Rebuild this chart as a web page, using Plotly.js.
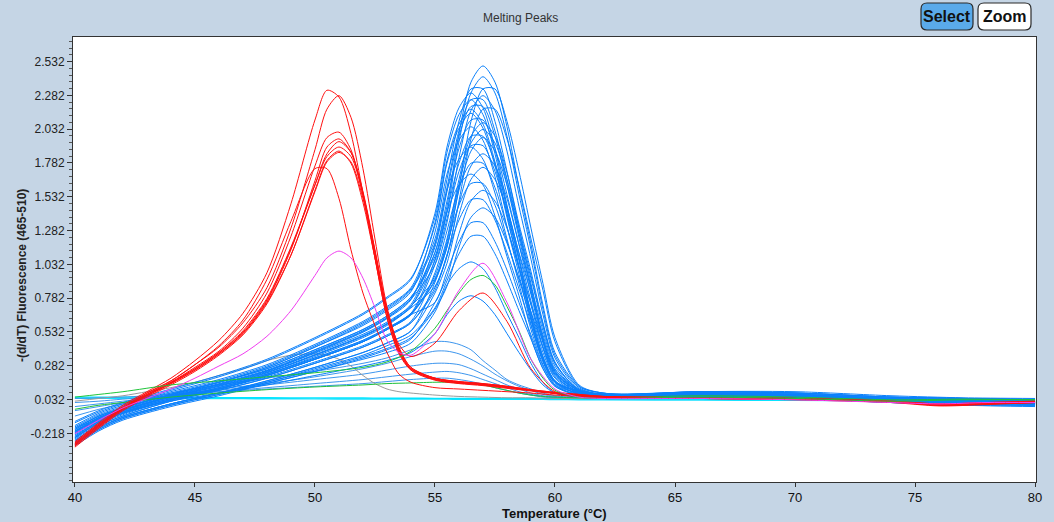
<!DOCTYPE html>
<html>
<head>
<meta charset="utf-8">
<script src="https://cdn.plot.ly/plotly-3.0.1.min.js"></script>
<style>
  html, body { margin: 0; padding: 0; background: #c5d5e5; }
  #chart { width: 1054px; height: 522px; }
</style>
</head>
<body>
<div id="chart"></div>
<script>
// Temperature grids (°C) for the sample groups
const tempBlue = [40, 41, 42, 44, 46, 48, 50, 52, 53, 54, 55, 55.5, 56, 56.5, 57, 57.5, 58, 58.5, 59, 59.5, 60, 61, 62, 66, 70, 74, 77, 80];
const tempRed = [40, 41, 42, 43, 44, 45, 46, 47, 48, 49, 50, 50.5, 51, 51.5, 52, 52.5, 53, 53.5, 54, 55, 56, 57, 58, 59, 60, 61, 62, 66, 70, 74, 76, 78, 80];

// Axis ticks
const xTickValues = [40, 45, 50, 55, 60, 65, 70, 75, 80];
const xTickLabels = ['40', '45', '50', '55', '60', '65', '70', '75', '80'];
const yTickValues = [-0.218, 0.032, 0.282, 0.532, 0.782, 1.032, 1.282, 1.532, 1.782, 2.032, 2.282, 2.532];
const yTickLabels = ['-0.218', '0.032', '0.282', '0.532', '0.782', '1.032', '1.282', '1.532', '1.782', '2.032', '2.282', '2.532'];

// -(d/dT) melting peaks, high-Tm group (blue)
const blue01 = [-0.22, -0.12, -0.05, 0.05, 0.13, 0.23, 0.36, 0.50, 0.59, 0.72, 1.12, 1.46, 2.00, 2.38, 2.50, 2.38, 2.05, 1.60, 1.18, 0.73, 0.38, 0.13, 0.08, 0.08, 0.07, 0.04, 0.03, 0.02];
const blue02 = [-0.19, -0.10, -0.03, 0.07, 0.16, 0.26, 0.40, 0.55, 0.65, 0.79, 1.09, 1.42, 1.94, 2.30, 2.42, 2.30, 1.98, 1.55, 1.14, 0.70, 0.36, 0.12, 0.07, 0.07, 0.06, 0.03, 0.02, 0.01];
const blue03 = [-0.17, -0.08, -0.02, 0.08, 0.17, 0.28, 0.43, 0.60, 0.71, 0.85, 1.22, 1.66, 2.09, 2.33, 2.33, 2.09, 1.72, 1.30, 0.89, 0.49, 0.25, 0.11, 0.07, 0.09, 0.08, 0.05, 0.04, 0.03];
const blue04 = [-0.14, -0.06, 0.00, 0.10, 0.20, 0.32, 0.48, 0.66, 0.78, 0.92, 1.41, 1.90, 2.19, 2.30, 2.19, 1.89, 1.47, 1.08, 0.67, 0.35, 0.17, 0.09, 0.07, 0.08, 0.08, 0.05, 0.04, 0.035];
const blue05 = [-0.18, -0.09, -0.03, 0.07, 0.16, 0.27, 0.42, 0.59, 0.70, 0.84, 1.19, 1.60, 2.02, 2.25, 2.25, 2.02, 1.66, 1.26, 0.86, 0.48, 0.24, 0.10, 0.07, 0.06, 0.05, 0.02, 0.01, 0.00];
const blue06 = [-0.13, -0.05, 0.01, 0.11, 0.21, 0.33, 0.49, 0.67, 0.79, 0.93, 1.38, 1.86, 2.14, 2.25, 2.14, 1.85, 1.44, 1.06, 0.65, 0.34, 0.17, 0.09, 0.07, 0.07, 0.06, 0.03, 0.02, 0.01];
const blue07 = [-0.20, -0.10, -0.04, 0.06, 0.15, 0.25, 0.39, 0.54, 0.64, 0.78, 1.16, 1.57, 1.98, 2.20, 2.20, 1.98, 1.62, 1.23, 0.84, 0.47, 0.23, 0.10, 0.07, 0.08, 0.07, 0.04, 0.03, 0.02];
const blue08 = [-0.23, -0.13, -0.06, 0.04, 0.12, 0.22, 0.35, 0.49, 0.58, 0.71, 0.87, 1.09, 1.50, 1.96, 2.18, 2.18, 1.96, 1.61, 1.22, 0.84, 0.46, 0.13, 0.08, 0.06, 0.05, 0.02, 0.00, -0.01];
const blue09 = [-0.16, -0.07, -0.01, 0.09, 0.18, 0.29, 0.44, 0.61, 0.72, 0.86, 1.32, 1.78, 2.04, 2.15, 2.04, 1.76, 1.38, 1.01, 0.62, 0.32, 0.16, 0.09, 0.07, 0.09, 0.09, 0.06, 0.045, 0.04];
const blue10 = [-0.19, -0.09, -0.03, 0.07, 0.16, 0.26, 0.40, 0.55, 0.65, 0.79, 1.12, 1.50, 1.89, 2.10, 2.10, 1.89, 1.55, 1.18, 0.81, 0.45, 0.22, 0.10, 0.07, 0.07, 0.06, 0.03, 0.02, 0.01];
const blue11 = [-0.25, -0.14, -0.07, 0.03, 0.11, 0.21, 0.33, 0.46, 0.55, 0.66, 0.95, 1.22, 1.66, 1.98, 2.08, 1.98, 1.71, 1.33, 0.98, 0.60, 0.31, 0.10, 0.06, 0.07, 0.06, 0.03, 0.02, 0.00];
const blue12 = [-0.21, -0.11, -0.05, 0.05, 0.14, 0.24, 0.38, 0.53, 0.63, 0.77, 1.27, 1.70, 1.95, 2.05, 1.95, 1.68, 1.31, 0.96, 0.59, 0.31, 0.15, 0.08, 0.06, 0.06, 0.05, 0.02, 0.01, 0.00];
const blue13 = [-0.22, -0.12, -0.05, 0.05, 0.13, 0.23, 0.36, 0.50, 0.59, 0.72, 1.06, 1.42, 1.78, 1.98, 1.98, 1.78, 1.46, 1.11, 0.76, 0.42, 0.21, 0.09, 0.06, 0.08, 0.07, 0.04, 0.03, 0.02];
const blue14 = [-0.24, -0.13, -0.06, 0.04, 0.12, 0.22, 0.34, 0.47, 0.56, 0.67, 0.91, 1.16, 1.58, 1.87, 1.97, 1.87, 1.62, 1.26, 0.93, 0.57, 0.30, 0.10, 0.06, 0.05, 0.04, 0.01, 0.00, -0.01];
const blue15 = [-0.25, -0.14, -0.07, 0.03, 0.11, 0.21, 0.33, 0.46, 0.55, 0.66, 1.03, 1.37, 1.72, 1.91, 1.91, 1.72, 1.41, 1.07, 0.73, 0.41, 0.20, 0.09, 0.06, 0.09, 0.08, 0.05, 0.04, 0.03];
const blue16 = [-0.205, -0.105, -0.035, 0.065, 0.145, 0.245, 0.375, 0.515, 0.605, 0.735, 1.18, 1.58, 1.81, 1.90, 1.81, 1.56, 1.22, 0.89, 0.55, 0.29, 0.14, 0.08, 0.06, 0.07, 0.06, 0.03, 0.02, 0.01];
const blue17 = [-0.27, -0.16, -0.09, 0.02, 0.10, 0.19, 0.30, 0.42, 0.50, 0.60, 0.86, 1.10, 1.48, 1.76, 1.85, 1.76, 1.52, 1.18, 0.87, 0.54, 0.28, 0.09, 0.06, 0.06, 0.05, 0.02, 0.01, 0.00];
const blue18 = [-0.26, -0.15, -0.08, 0.03, 0.11, 0.20, 0.31, 0.43, 0.51, 0.61, 0.97, 1.28, 1.60, 1.78, 1.78, 1.60, 1.31, 1.00, 0.68, 0.38, 0.19, 0.08, 0.06, 0.08, 0.07, 0.04, 0.03, 0.02];
const blue19 = [-0.29, -0.18, -0.10, 0.00, 0.08, 0.17, 0.27, 0.38, 0.45, 0.54, 0.82, 1.04, 1.40, 1.66, 1.75, 1.66, 1.44, 1.12, 0.82, 0.51, 0.26, 0.09, 0.05, 0.05, 0.04, 0.01, -0.01, -0.015];
const blue20 = [-0.24, -0.13, -0.06, 0.04, 0.12, 0.22, 0.34, 0.47, 0.56, 0.67, 1.07, 1.42, 1.62, 1.70, 1.62, 1.39, 1.09, 0.80, 0.49, 0.26, 0.13, 0.07, 0.05, 0.07, 0.06, 0.03, 0.02, 0.01];
const blue21 = [-0.29, -0.18, -0.10, 0.00, 0.08, 0.17, 0.27, 0.38, 0.45, 0.54, 0.90, 1.18, 1.47, 1.63, 1.63, 1.47, 1.20, 0.92, 0.63, 0.35, 0.17, 0.07, 0.05, 0.06, 0.05, 0.02, 0.01, 0.00];
const blue22 = [-0.31, -0.20, -0.12, -0.02, 0.06, 0.15, 0.24, 0.34, 0.40, 0.48, 0.75, 0.94, 1.26, 1.50, 1.58, 1.50, 1.30, 1.01, 0.74, 0.46, 0.24, 0.08, 0.05, 0.05, 0.04, 0.01, -0.01, -0.02];
const blue23 = [-0.27, -0.16, -0.09, 0.02, 0.10, 0.19, 0.30, 0.42, 0.50, 0.60, 0.84, 1.10, 1.36, 1.51, 1.51, 1.36, 1.12, 0.85, 0.58, 0.32, 0.16, 0.07, 0.05, 0.06, 0.05, 0.02, 0.01, 0.00];
const blue24 = [-0.30, -0.19, -0.11, -0.01, 0.07, 0.16, 0.25, 0.35, 0.41, 0.49, 0.70, 0.87, 1.16, 1.38, 1.45, 1.38, 1.19, 0.93, 0.68, 0.42, 0.22, 0.07, 0.05, 0.07, 0.06, 0.03, 0.02, 0.01];
const blue25 = [-0.28, -0.17, -0.10, 0.00, 0.08, 0.16, 0.26, 0.36, 0.43, 0.51, 0.71, 0.91, 1.11, 1.24, 1.24, 1.11, 0.91, 0.69, 0.48, 0.26, 0.13, 0.06, 0.04, 0.05, 0.04, 0.02, 0.00, -0.01];
const blue26 = [-0.30, -0.19, -0.11, -0.01, 0.07, 0.15, 0.24, 0.33, 0.38, 0.45, 0.68, 0.88, 1.00, 1.05, 1.00, 0.86, 0.67, 0.49, 0.30, 0.16, 0.08, 0.05, 0.04, 0.06, 0.05, 0.02, 0.01, 0.00];
const blue27 = [-0.18, -0.09, -0.03, 0.07, 0.16, 0.27, 0.42, 0.58, 0.69, 0.83, 1.34, 1.80, 2.07, 2.18, 2.07, 1.79, 1.40, 1.02, 0.63, 0.33, 0.16, 0.09, 0.07, 0.08, 0.07, 0.04, 0.03, 0.02];
const blue28 = [-0.215, -0.115, -0.045, 0.055, 0.135, 0.235, 0.365, 0.505, 0.595, 0.725, 0.93, 1.20, 1.62, 1.93, 2.03, 1.93, 1.66, 1.30, 0.95, 0.59, 0.30, 0.10, 0.06, 0.06, 0.05, 0.02, 0.01, 0.00];
const blue29 = [-0.205, -0.105, -0.045, 0.055, 0.145, 0.245, 0.385, 0.535, 0.635, 0.775, 1.03, 1.34, 1.82, 2.17, 2.28, 2.17, 1.87, 1.46, 1.07, 0.66, 0.34, 0.11, 0.07, 0.09, 0.08, 0.05, 0.04, 0.03];
const blue30 = [-0.25, -0.14, -0.07, 0.03, 0.11, 0.21, 0.33, 0.46, 0.55, 0.66, 0.92, 1.16, 1.60, 2.09, 2.33, 2.33, 2.09, 1.72, 1.30, 0.89, 0.49, 0.14, 0.08, 0.07, 0.06, 0.03, 0.02, 0.01];
const blue31 = [-0.20, -0.12, -0.06, 0.02, 0.08, 0.14, 0.21, 0.28, 0.32, 0.38, 0.52, 0.66, 0.76, 0.80, 0.76, 0.66, 0.52, 0.38, 0.25, 0.14, 0.08, 0.05, 0.04, 0.05, 0.04, 0.02, 0.01, 0.00];
const blue32 = [-0.25, -0.14, -0.07, 0.03, 0.11, 0.21, 0.33, 0.46, 0.55, 0.66, 0.75, 0.98, 1.20, 1.34, 1.34, 1.20, 0.99, 0.75, 0.51, 0.28, 0.14, 0.06, 0.04, 0.06, 0.05, 0.02, 0.01, 0.00];

// Weak blue samples
const lowBlue1 = [-0.09, -0.04, 0.00, 0.08, 0.14, 0.19, 0.24, 0.30, 0.34, 0.40, 0.46, 0.46, 0.44, 0.40, 0.32, 0.25, 0.18, 0.14, 0.11, 0.08, 0.06, 0.045, 0.04, 0.05, 0.04, 0.02, 0.01, 0.00];
const lowBlue2 = [-0.05, -0.02, 0.01, 0.06, 0.11, 0.15, 0.20, 0.26, 0.30, 0.35, 0.39, 0.39, 0.37, 0.33, 0.28, 0.22, 0.17, 0.13, 0.10, 0.07, 0.055, 0.045, 0.04, 0.05, 0.04, 0.02, 0.01, 0.00];
const lowBlue3 = [-0.02, 0.00, 0.02, 0.06, 0.10, 0.14, 0.18, 0.22, 0.25, 0.28, 0.30, 0.30, 0.29, 0.26, 0.22, 0.18, 0.14, 0.11, 0.08, 0.06, 0.05, 0.04, 0.04, 0.05, 0.04, 0.02, 0.01, 0.00];
const lowBlue4 = [0.01, 0.02, 0.035, 0.06, 0.09, 0.12, 0.15, 0.18, 0.20, 0.22, 0.235, 0.24, 0.23, 0.21, 0.18, 0.15, 0.12, 0.09, 0.07, 0.055, 0.045, 0.04, 0.04, 0.05, 0.04, 0.02, 0.01, 0.00];
const lowBlue5 = [0.04, 0.045, 0.05, 0.07, 0.09, 0.11, 0.13, 0.15, 0.165, 0.18, 0.19, 0.19, 0.18, 0.165, 0.145, 0.12, 0.10, 0.08, 0.065, 0.05, 0.045, 0.04, 0.04, 0.05, 0.04, 0.02, 0.01, 0.00];

// Low-Tm group (red)
const red1 = [-0.28, -0.14, -0.01, 0.09, 0.19, 0.32, 0.47, 0.67, 0.97, 1.48, 2.10, 2.32, 2.27, 2.00, 1.56, 1.08, 0.64, 0.38, 0.26, 0.19, 0.16, 0.145, 0.125, 0.10, 0.08, 0.065, 0.055, 0.045, 0.04, 0.02, 0.00, 0.01, 0.02];
const red2 = [-0.29, -0.15, -0.02, 0.08, 0.17, 0.29, 0.42, 0.60, 0.86, 1.30, 1.88, 2.18, 2.28, 2.12, 1.74, 1.22, 0.72, 0.42, 0.27, 0.19, 0.165, 0.15, 0.13, 0.105, 0.085, 0.07, 0.055, 0.045, 0.04, 0.015, -0.01, 0.00, 0.01];
const red3 = [-0.30, -0.16, -0.03, 0.07, 0.16, 0.27, 0.39, 0.56, 0.82, 1.24, 1.76, 1.97, 2.01, 1.88, 1.54, 1.08, 0.64, 0.37, 0.25, 0.18, 0.155, 0.14, 0.12, 0.10, 0.08, 0.065, 0.05, 0.04, 0.035, 0.015, -0.005, 0.005, 0.015];
const red4 = [-0.31, -0.17, -0.04, 0.06, 0.15, 0.25, 0.37, 0.52, 0.76, 1.14, 1.65, 1.90, 1.96, 1.86, 1.56, 1.12, 0.67, 0.39, 0.25, 0.175, 0.15, 0.135, 0.115, 0.095, 0.075, 0.06, 0.05, 0.04, 0.03, 0.01, -0.015, -0.005, 0.01];
const red5 = [-0.30, -0.16, -0.035, 0.065, 0.155, 0.26, 0.38, 0.53, 0.77, 1.15, 1.62, 1.85, 1.94, 1.86, 1.57, 1.14, 0.69, 0.40, 0.26, 0.185, 0.16, 0.145, 0.125, 0.10, 0.08, 0.065, 0.05, 0.045, 0.04, 0.02, 0.00, 0.01, 0.02];
const red6 = [-0.32, -0.18, -0.05, 0.05, 0.14, 0.24, 0.36, 0.51, 0.74, 1.10, 1.58, 1.80, 1.87, 1.78, 1.49, 1.08, 0.68, 0.44, 0.35, 0.45, 0.69, 0.82, 0.61, 0.26, 0.09, 0.055, 0.045, 0.04, 0.035, 0.015, -0.01, 0.00, 0.01];
const red7 = [-0.31, -0.17, -0.04, 0.06, 0.15, 0.25, 0.37, 0.52, 0.75, 1.10, 1.57, 1.79, 1.86, 1.79, 1.52, 1.12, 0.70, 0.41, 0.27, 0.19, 0.165, 0.15, 0.13, 0.105, 0.085, 0.07, 0.055, 0.045, 0.035, 0.015, -0.005, 0.005, 0.015];
const red8 = [-0.30, -0.16, -0.03, 0.08, 0.17, 0.29, 0.43, 0.62, 0.92, 1.35, 1.74, 1.74, 1.52, 1.14, 0.82, 0.58, 0.38, 0.22, 0.16, 0.12, 0.11, 0.10, 0.09, 0.08, 0.065, 0.055, 0.045, 0.04, 0.035, 0.015, -0.01, 0.00, 0.01];
const red9 = [-0.29, -0.15, -0.03, 0.07, 0.16, 0.26, 0.38, 0.54, 0.78, 1.16, 1.62, 1.83, 1.90, 1.83, 1.55, 1.13, 0.69, 0.40, 0.26, 0.18, 0.155, 0.14, 0.12, 0.10, 0.08, 0.065, 0.05, 0.04, 0.035, 0.015, -0.005, 0.005, 0.015];

// Heterozygous (magenta), other samples and controls
const magenta1 = [-0.22, -0.12, -0.03, 0.04, 0.11, 0.19, 0.28, 0.37, 0.50, 0.69, 0.95, 1.08, 1.13, 1.08, 0.93, 0.71, 0.47, 0.38, 0.36, 0.52, 0.84, 1.04, 0.75, 0.33, 0.11, 0.05, 0.04, 0.04, 0.03, 0.01, 0.00, 0.01, 0.01];
const gray1 = [0.02, 0.04, 0.06, 0.09, 0.12, 0.16, 0.21, 0.26, 0.32, 0.36, 0.37, 0.36, 0.33, 0.28, 0.21, 0.15, 0.11, 0.09, 0.08, 0.065, 0.055, 0.05, 0.045, 0.045, 0.04, 0.04, 0.04, 0.04, 0.035, 0.02, 0.01, 0.015, 0.02];
const green1 = [0.05, 0.07, 0.09, 0.14, 0.17, 0.20, 0.23, 0.27, 0.31, 0.39, 0.56, 0.69, 0.82, 0.92, 0.95, 0.88, 0.72, 0.54, 0.33, 0.19, 0.10, 0.05, 0.04, 0.05, 0.04, 0.02, 0.03, 0.03];
const green2 = [-0.04, -0.01, 0.01, 0.05, 0.08, 0.105, 0.125, 0.14, 0.15, 0.155, 0.16, 0.16, 0.155, 0.15, 0.14, 0.12, 0.10, 0.08, 0.065, 0.055, 0.05, 0.045, 0.045, 0.06, 0.05, 0.03, 0.035, 0.03];
const cyan1 = [0.05, 0.05, 0.05, 0.048, 0.046, 0.045, 0.044, 0.043, 0.042, 0.042, 0.041, 0.041, 0.04, 0.04, 0.04, 0.04, 0.04, 0.04, 0.039, 0.039, 0.038, 0.037, 0.036, 0.033, 0.03, 0.028, 0.027, 0.026];
const cyan2 = [0.042, 0.042, 0.041, 0.04, 0.039, 0.038, 0.037, 0.036, 0.036, 0.035, 0.035, 0.035, 0.034, 0.034, 0.034, 0.034, 0.034, 0.033, 0.033, 0.033, 0.032, 0.031, 0.03, 0.028, 0.026, 0.022, 0.02, 0.018];

const blueBundle = [blue01, blue02, blue03, blue04, blue05, blue06, blue07, blue08, blue09, blue10,
  blue11, blue12, blue13, blue14, blue15, blue16, blue17, blue18, blue19, blue20,
  blue21, blue22, blue23, blue24, blue25, blue26, blue27, blue28, blue29, blue30, blue31, blue32];
const lowBlues = [lowBlue1, lowBlue2, lowBlue3, lowBlue4, lowBlue5];
const reds = [red1, red2, red3, red4, red5, red6, red7, red8, red9];

const traces = [];
function addCurve(xs, ys, color, width) {
  traces.push({
    x: xs, y: ys, type: 'scatter', mode: 'lines',
    line: { color: color, width: width || 1, shape: 'spline', smoothing: 0.8 },
    hoverinfo: 'skip', showlegend: false
  });
}

addCurve(tempBlue, cyan2, '#14e0ff', 1.4);
addCurve(tempBlue, cyan1, '#00e5ff', 1.4);
lowBlues.forEach(ys => addCurve(tempBlue, ys, '#3d96ee'));
addCurve(tempRed, gray1, '#9a9a9a');
blueBundle.forEach(ys => addCurve(tempBlue, ys, '#0a80fb'));
addCurve(tempBlue, green2, '#1fbf3a');
reds.forEach(ys => addCurve(tempRed, ys, '#ff1010'));
addCurve(tempBlue, green1, '#1fc43a');
addCurve(tempRed, magenta1, '#f03cf0');

// Rounded button outline, in pixels relative to the top-right corner of the plot area
function roundedRect(x0, x1, y0, y1, r) {
  return `M${x0 + r},${y0} L${x1 - r},${y0} Q${x1},${y0} ${x1},${y0 + r} ` +
         `L${x1},${y1 - r} Q${x1},${y1} ${x1 - r},${y1} L${x0 + r},${y1} ` +
         `Q${x0},${y1} ${x0},${y1 - r} L${x0},${y0 + r} Q${x0},${y0} ${x0 + r},${y0} Z`;
}
function buttonShape(x0, x1, fill) {
  return {
    type: 'path', xref: 'paper', yref: 'paper',
    xsizemode: 'pixel', ysizemode: 'pixel', xanchor: 1, yanchor: 1,
    path: roundedRect(x0, x1, 7, 34, 6),
    fillcolor: fill, line: { color: '#2a2a2a', width: 1.2 }, layer: 'above'
  };
}

const narrow = 'Liberation Sans Narrow, Arial Narrow, Liberation Sans, sans-serif';

const layout = {
  width: 1054, height: 522,
  paper_bgcolor: '#c5d5e5', plot_bgcolor: '#ffffff',
  margin: { l: 73, r: 18, t: 37, b: 40, pad: 0 },
  showlegend: false,
  hovermode: false,
  xaxis: {
    range: [39.92, 80.04],
    tickmode: 'array', tickvals: xTickValues, ticktext: xTickLabels,
    ticks: 'outside', ticklen: 4, tickcolor: '#333', ticklabelstandoff: -1,
    tickfont: { family: narrow, size: 13, color: '#111' },
    showgrid: false, zeroline: false,
    showline: true, linecolor: '#333', linewidth: 1, mirror: true
  },
  yaxis: {
    range: [-0.578, 2.714],
    tickmode: 'array', tickvals: yTickValues, ticktext: yTickLabels,
    ticks: 'outside', ticklen: 5, tickcolor: '#333',
    minor: { tickmode: 'linear', tick0: 0.032, dtick: 0.05, ticks: 'outside', ticklen: 3, tickcolor: '#555' },
    tickfont: { family: 'Liberation Sans, Arial, sans-serif', size: 12, color: '#222' },
    showgrid: false, zeroline: false,
    showline: true, linecolor: '#333', linewidth: 1, mirror: true
  },
  shapes: [
    buttonShape(-115, -63, '#5aaaea'),
    buttonShape(-58, -5, '#ffffff')
  ],
  annotations: [
    { text: 'Melting Peaks', xref: 'paper', yref: 'paper', x: 0.4652, y: 1.0427,
      xanchor: 'center', yanchor: 'middle', showarrow: false,
      font: { family: 'Liberation Sans, Arial, sans-serif', size: 12, color: '#333' } },
    { text: '<b>-(d/dT) Fluorescence (465-510)</b>', xref: 'paper', yref: 'paper',
      x: -0.053, y: 0.465, textangle: -90, xanchor: 'center', yanchor: 'middle', showarrow: false,
      font: { family: 'Liberation Sans, Arial, sans-serif', size: 12, color: '#222' } },
    { text: '<b>Temperature (°C)</b>', xref: 'paper', yref: 'paper',
      x: 0.5005, y: -0.0697, xanchor: 'center', yanchor: 'middle', showarrow: false,
      font: { family: narrow, size: 13, color: '#111' } },
    { text: '<b>Select</b>', xref: 'paper', yref: 'paper', x: 0.9076, y: 1.045,
      xanchor: 'center', yanchor: 'middle', showarrow: false,
      font: { family: narrow, size: 16, color: '#111' } },
    { text: '<b>Zoom</b>', xref: 'paper', yref: 'paper', x: 0.9673, y: 1.045,
      xanchor: 'center', yanchor: 'middle', showarrow: false,
      font: { family: narrow, size: 16, color: '#111' } }
  ]
};

Plotly.newPlot('chart', traces, layout, { staticPlot: true, displayModeBar: false });
</script>
</body>
</html>
